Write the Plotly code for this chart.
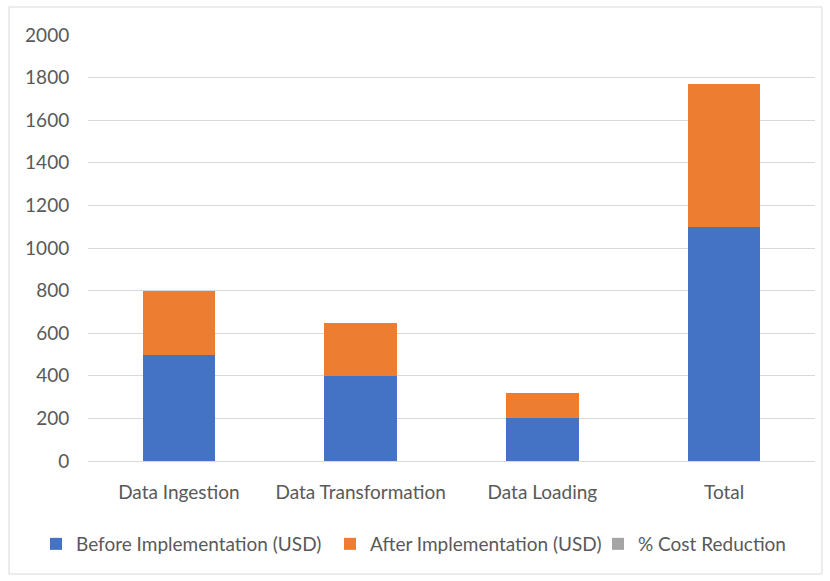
import plotly.graph_objects as go

# Pipeline stage costs
categories = ["Data Ingestion", "Data Transformation", "Data Loading", "Total"]
before_usd = [500, 400, 200, 1100]
after_usd = [300, 250, 120, 670]
cost_reduction_pct = [None, None, None, None]

y_ticks = [0, 200, 400, 600, 800, 1000, 1200, 1400, 1600, 1800, 2000]

FONT = "Lato, Liberation Sans, sans-serif"
TEXT = "#595959"
GRID = "#d9d9d9"
FS = 19

fig = go.Figure()
fig.add_trace(go.Bar(name="Before Implementation (USD)", x=categories, y=before_usd,
                     marker=dict(color="#4472C4", line=dict(width=0)),
                     legendwidth=249))
fig.add_trace(go.Bar(name="After Implementation (USD)", x=categories, y=after_usd,
                     marker=dict(color="#ED7D31", line=dict(width=0)),
                     legendwidth=223))
fig.add_trace(go.Bar(name="% Cost Reduction", x=categories, y=cost_reduction_pct,
                     marker=dict(color="#A5A5A5", line=dict(width=0)),
                     legendwidth=150))

L, R, T, B = 88, 15, 35, 120
W, H = 830, 581
pw, ph = W - L - R, H - T - B

def px_x(x):
    return (x - L) / pw

def px_y(y):
    return (H - B - y) / ph

fig.update_layout(
    width=W, height=H,
    margin=dict(l=L, r=R, t=T, b=B, autoexpand=False),
    barmode="stack",
    bargap=0.6,
    paper_bgcolor="white",
    plot_bgcolor="white",
    font=dict(family=FONT, size=FS, color=TEXT),
    showlegend=True,
    legend=dict(orientation="h", xref="paper", x=px_x(36), xanchor="left",
                yref="paper", y=px_y(544), yanchor="middle",
                traceorder="normal", bgcolor="rgba(0,0,0,0)",
                font=dict(family=FONT, size=FS, color=TEXT),
                itemwidth=30, entrywidthmode="pixels"),
    xaxis=dict(showgrid=False, showline=False, zeroline=False,
               ticks="outside", ticklen=14, tickcolor="rgba(0,0,0,0)",
               tickfont=dict(family=FONT, size=FS, color=TEXT)),
    yaxis=dict(range=[0, 2000], tickvals=y_ticks, showgrid=True,
               gridcolor=GRID, gridwidth=1, zeroline=True, zerolinecolor=GRID,
               zerolinewidth=1, showline=False,
               ticks="outside", ticklen=14, tickcolor="rgba(0,0,0,0)",
               tickfont=dict(family=FONT, size=FS, color=TEXT)),
    shapes=[dict(type="rect", xref="paper", yref="paper",
                 x0=px_x(9), x1=px_x(822), y0=px_y(574), y1=px_y(7),
                 line=dict(color=GRID, width=1), fillcolor="rgba(0,0,0,0)",
                 layer="below")],
)

fig.write_html("out.html")
